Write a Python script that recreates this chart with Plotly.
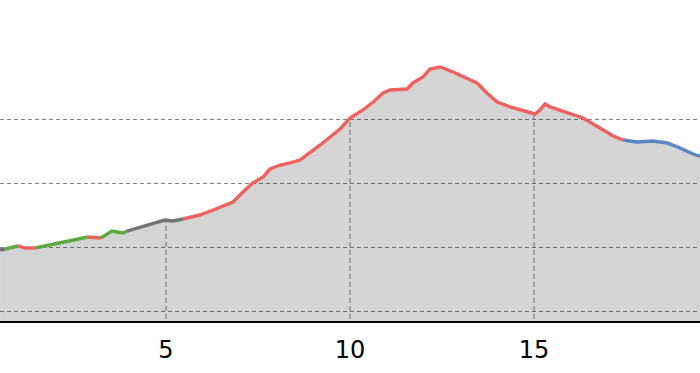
import numpy as np
import plotly.graph_objects as go

# distance (km) and elevation (m)
distance = [0.49, 0.63, 0.82, 0.98, 1.17, 1.44, 1.85, 2.31, 2.66, 2.88, 3.07, 3.23,
            3.40, 3.53, 3.67, 3.83, 3.94, 4.29, 4.65, 4.97, 5.19, 5.46, 5.92, 6.28,
            6.82, 7.09, 7.36, 7.64, 7.83, 8.10, 8.37, 8.64, 8.91, 9.19, 9.46, 9.73,
            10.00, 10.19, 10.35, 10.63, 10.90, 11.09, 11.55, 11.71, 11.98, 12.17,
            12.45, 12.80, 13.18, 13.45, 13.72, 14.00, 14.35, 14.81, 15.03, 15.16,
            15.30, 15.44, 15.90, 16.33, 16.79, 17.15, 17.42, 17.80, 18.24, 18.62,
            18.97, 19.32, 19.65]
elevation = [195.3, 196.9, 200.0, 201.6, 198.4, 198.4, 203.1, 207.8, 212.5, 215.6,
             214.1, 214.1, 220.3, 225.0, 223.4, 221.9, 225.0, 231.3, 237.5, 242.2,
             240.6, 243.8, 250.0, 257.8, 270.3, 285.9, 300.0, 309.4, 321.9, 328.1,
             331.3, 335.9, 346.9, 359.4, 371.9, 384.4, 401.6, 407.8, 414.1, 426.6,
             440.6, 445.3, 446.9, 456.3, 465.6, 478.1, 481.3, 473.4, 464.1, 456.3,
             440.6, 426.6, 418.8, 410.9, 407.8, 414.1, 423.4, 418.8, 409.4, 401.6,
             385.9, 373.4, 367.2, 364.1, 365.6, 362.5, 354.7, 345.3, 339.1]

# segments: start index, end index, surface type
seg_start = [0, 1, 3, 5, 9, 11, 16, 21, 62]
seg_end = [1, 3, 5, 9, 11, 16, 21, 62, 68]
seg_type = ["gray", "green", "red", "green", "red", "green", "gray", "red", "blue"]

x_ticks = [0, 5, 10, 15, 20]
y_grid = [100, 200, 300, 400]

colors = {"gray": "#747474", "green": "#5cab3e", "red": "#f0605f", "blue": "#5a86c6"}

fig = go.Figure()

# filled area
fig.add_trace(go.Scatter(x=distance, y=elevation, mode="lines", fill="tozeroy",
                         fillcolor="rgba(0,0,0,0.17)", line=dict(width=0),
                         hoverinfo="skip", showlegend=False))

# vertical grid lines limited to the profile
vx, vy = [], []
for t in x_ticks:
    if distance[0] <= t <= distance[-1]:
        h = float(np.interp(t, distance, elevation))
        vx += [t, t, None]
        vy += [0, h, None]
fig.add_trace(go.Scatter(x=vx, y=vy, mode="lines",
                         line=dict(color="#6a6a6a", width=1, dash="5px,3px"),
                         hoverinfo="skip", showlegend=False))

# colored profile line
for s, e, t in zip(seg_start, seg_end, seg_type):
    fig.add_trace(go.Scatter(x=distance[s:e + 1], y=elevation[s:e + 1], mode="lines",
                             line=dict(color=colors[t], width=3.4),
                             showlegend=False))

fig.update_layout(
    width=700, height=373,
    margin=dict(l=0, r=0, t=58, b=52),
    paper_bgcolor="white", plot_bgcolor="white",
    font=dict(family="DejaVu Sans", size=24, color="black"),
)
fig.update_xaxes(range=[0.489, 19.51], tickvals=x_ticks, showgrid=False,
                 zeroline=False, showline=True, linecolor="black", linewidth=2,
                 ticks="outside", ticklen=6, tickcolor="rgba(0,0,0,0)")
fig.update_yaxes(range=[84.4, 495.3], tickvals=y_grid, showticklabels=False,
                 showgrid=True, gridcolor="#808080", griddash="4px,3px", gridwidth=1,
                 zeroline=False, showline=False)

fig.write_html("out.html", config={"displayModeBar": False},
               post_script="document.body.style.margin='0';document.body.style.overflow='hidden';")
